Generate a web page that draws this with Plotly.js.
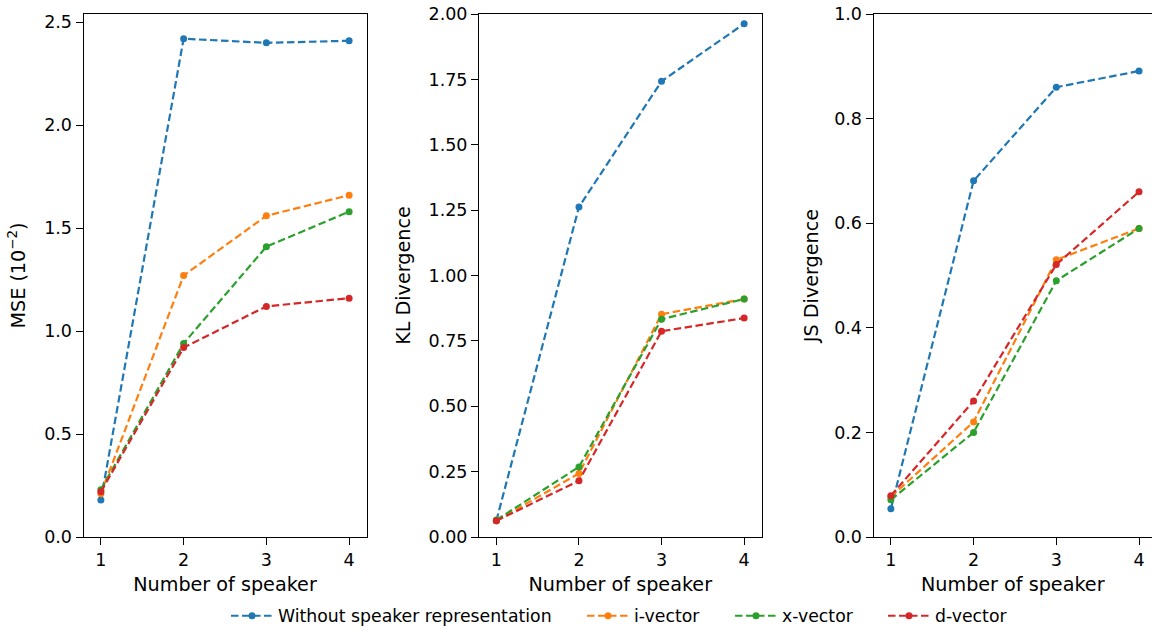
<!DOCTYPE html>
<html>
<head>
<meta charset="utf-8">
<script src="https://cdn.plot.ly/plotly-3.0.1.min.js"></script>
<style>html,body{margin:0;padding:0;background:#fff;}#chart{width:1152px;height:630px;}</style>
</head>
<body>
<div id="chart"></div>
<script>
const speakers = [1, 2, 3, 4];
const seriesNames = ["Without speaker representation", "i-vector", "x-vector", "d-vector"];
const colors = ["#1f77b4", "#ff7f0e", "#2ca02c", "#d62728"];

const mseNone = [0.18, 2.42, 2.40, 2.41];
const mseI    = [0.21, 1.27, 1.56, 1.66];
const mseX    = [0.23, 0.94, 1.41, 1.58];
const mseD    = [0.22, 0.92, 1.12, 1.16];

const klNone = [0.062, 1.262, 1.743, 1.963];
const klI    = [0.062, 0.243, 0.852, 0.910];
const klX    = [0.065, 0.268, 0.833, 0.910];
const klD    = [0.062, 0.215, 0.787, 0.837];

const jsNone = [0.054, 0.681, 0.860, 0.891];
const jsI    = [0.077, 0.220, 0.530, 0.590];
const jsX    = [0.071, 0.200, 0.490, 0.590];
const jsD    = [0.079, 0.260, 0.521, 0.660];

const panels = [
  {vals: [mseNone, mseI, mseX, mseD], xa: "x", ya: "y"},
  {vals: [klNone, klI, klX, klD], xa: "x2", ya: "y2"},
  {vals: [jsNone, jsI, jsX, jsD], xa: "x3", ya: "y3"}
];
const legendIds = ["legend", "legend2", "legend3", "legend4"];
// left pixel of each legend sample
const legendLeft = [231, 587, 735, 888];

const traces = [];
panels.forEach((p, pi) => {
  p.vals.forEach((v, si) => {
    traces.push({
      x: speakers, y: v, xaxis: p.xa, yaxis: p.ya,
      type: "scatter", mode: "lines+markers",
      name: seriesNames[si], legendgroup: seriesNames[si],
      legend: legendIds[si],
      showlegend: pi === 0,
      line: {color: colors[si], width: 2.2, dash: "7.5px,3.5px"},
      marker: {color: colors[si], size: 7}
    });
  });
});

const tickFont = {family: "DejaVu Sans", size: 17.5, color: "#000"};
const titleFont = {family: "DejaVu Sans", size: 19.2, color: "#000"};
const legFont = {family: "DejaVu Sans", size: 17.3, color: "#000"};

function xaxis(dom, range, anchor) {
  return {
    domain: dom, range: range, tickvals: speakers, ticktext: speakers.map(String), anchor: anchor,
    showgrid: false, zeroline: false, showline: true, linecolor: "#000", linewidth: 1,
    mirror: true, ticks: "outside", ticklen: 7, tickcolor: "#000", automargin: false,
    tickfont: tickFont, title: {text: "Number of speaker", font: titleFont, standoff: 8}
  };
}
function yaxis(range, dtick, fmt, title, anchor, mirror, standoff) {
  return {
    domain: [0, 1], range: range, dtick: dtick, tick0: 0, tickformat: fmt, anchor: anchor,
    showgrid: false, zeroline: false, showline: true, linecolor: "#000", linewidth: 1,
    mirror: mirror, ticks: "outside", ticklen: 7, tickcolor: "#000", automargin: false,
    tickfont: tickFont, title: {text: title, font: titleFont, standoff: standoff}
  };
}

const layout = {
  width: 1152, height: 630,
  margin: {l: 0, r: 0, t: 14, b: 93},
  paper_bgcolor: "#fff", plot_bgcolor: "#fff",
  font: tickFont,
  showlegend: true,
  xaxis:  xaxis([83.5 / 1152, 366.5 / 1152], [0.79, 4.21], "y"),
  xaxis2: xaxis([479 / 1152, 761.5 / 1152], [0.79, 4.21], "y2"),
  xaxis3: xaxis([873.5 / 1152, 1], [0.79, 4.157], "y3"),
  yaxis:  yaxis([0, 2.54], 0.5, ".1f", "MSE (10<sup>−2</sup>)", "x", true, 13),
  yaxis2: yaxis([0, 2.0], 0.25, ".2f", "KL Divergence", "x2", true, 12),
  yaxis3: yaxis([0, 1.0], 0.2, ".1f", "JS Divergence", "x3", false, 10)
};
legendIds.forEach((id, i) => {
  layout[id] = {orientation: "h", xref: "container", yref: "container",
                x: (legendLeft[i] - 5) / 1152, xanchor: "left",
                y: 14 / 630, yanchor: "middle", font: legFont, itemwidth: 42,
                bgcolor: "rgba(0,0,0,0)", borderwidth: 0};
});

Plotly.newPlot("chart", traces, layout, {staticPlot: true, displayModeBar: false});
</script>
</body>
</html>
